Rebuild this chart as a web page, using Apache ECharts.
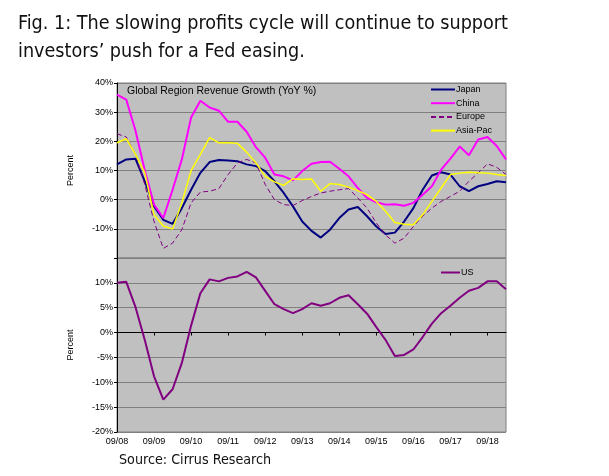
<!DOCTYPE html>
<html>
<head>
<meta charset="utf-8">
<script src="https://cdn.jsdelivr.net/npm/echarts@6/dist/echarts.min.js"></script>
<style>
  html, body { margin: 0; padding: 0; background: #fff; }
  #chart { width: 609px; height: 476px; }
</style>
</head>
<body>
<div id="chart"></div>
<script>
// == 季度 ==
var quarters = [
  '09/08', '12/08', '03/09', '06/09', '09/09', '12/09', '03/10', '06/10',
  '09/10', '12/10', '03/11', '06/11', '09/11', '12/11', '03/12', '06/12',
  '09/12', '12/12', '03/13', '06/13', '09/13', '12/13', '03/14', '06/14',
  '09/14', '12/14', '03/15', '06/15', '09/15', '12/15', '03/16', '06/16',
  '09/16', '12/16', '03/17', '06/17', '09/17', '12/17', '03/18', '06/18',
  '09/18', '12/18', '03/19'
];
// == 各地区收入增长 ==
var japan = [12.1, 13.8, 14.0, 6.3, -2.3, -6.9, -8.3, -2.9, 3.4, 9.2, 12.9, 13.6, 13.4, 13.2, 12.1, 11.5, 9.8, 6.3, 2.3, -2.3, -7.5, -10.7, -13.0, -10.3, -6.3, -3.4, -2.5, -5.7, -9.2, -11.8, -11.3, -7.5, -2.9, 3.4, 8.3, 9.4, 8.6, 4.6, 2.9, 4.6, 5.4, 6.3, 6.0];
var china = [36.0, 34.3, 23.6, 10.0, -1.7, -6.3, 3.4, 13.8, 28.2, 33.9, 31.6, 30.5, 26.7, 26.7, 23.3, 18.0, 14.4, 8.6, 8.0, 6.6, 9.8, 12.3, 12.9, 13.0, 10.6, 8.0, 4.0, 0.6, -0.9, -1.7, -1.6, -2.1, -1.1, 1.7, 4.6, 10.3, 14.1, 18.2, 15.2, 20.6, 21.5, 18.4, 13.8];
var europe = [22.6, 21.5, 15.5, 5.2, -7.5, -16.7, -14.9, -10.3, -1.1, 2.6, 2.9, 3.8, 8.6, 12.6, 13.8, 12.6, 5.2, 0.0, -1.7, -2.0, -0.3, 1.1, 2.3, 2.9, 3.4, 3.8, 0.6, -2.9, -8.0, -12.1, -14.9, -13.2, -9.2, -5.7, -2.9, -0.6, 1.1, 2.9, 6.3, 9.2, 12.3, 11.1, 8.6];
var asiaPac = [19.5, 20.9, 15.5, 9.2, -5.2, -9.0, -10.1, -1.1, 10.0, 15.5, 21.3, 19.5, 19.5, 19.3, 16.3, 12.6, 8.0, 6.1, 4.9, 7.2, 6.9, 7.1, 2.9, 5.5, 5.2, 4.3, 3.1, 1.7, -0.6, -4.0, -7.8, -8.4, -8.6, -5.2, -0.6, 4.0, 8.6, 9.1, 9.4, 9.2, 9.1, 8.6, 8.3];
var us = [10.0, 10.2, 5.1, -1.5, -8.8, -13.5, -11.4, -6.1, 1.4, 7.9, 10.7, 10.3, 11.0, 11.3, 12.2, 11.1, 8.4, 5.7, 4.7, 3.9, 4.7, 5.9, 5.4, 5.9, 7.0, 7.5, 5.7, 3.8, 1.1, -1.5, -4.7, -4.5, -3.4, -0.9, 1.8, 3.9, 5.4, 7.0, 8.4, 9.0, 10.3, 10.3, 8.7];

var chartDom = document.getElementById('chart');
var myChart = echarts.init(chartDom);
var option;

var headFont = "'DejaVu Sans Condensed', 'Liberation Sans Narrow', 'Roboto Condensed', 'Noto Sans'";
var small = { fontFamily: 'Liberation Sans', fontSize: 9, color: '#000' };
var pct = function (hidden) {
  return function (v) { return v === hidden ? '' : v + '%'; };
};

option = {
  animation: false,
  backgroundColor: '#fff',
  title: [
    {
      text: 'Fig. 1: The slowing profits cycle will continue to support\ninvestors\u2019 push for a Fed easing.',
      left: 13,
      top: 5,
      textStyle: {
        fontFamily: headFont,
        fontWeight: 'normal',
        fontSize: 19.6,
        lineHeight: 28,
        color: '#111',
      },
    },
    {
      text: 'Global Region Revenue Growth (YoY %)',
      left: 122,
      top: 81,
      textStyle: { fontFamily: 'Liberation Sans', fontWeight: 'normal', fontSize: 10.5, color: '#000' },
    },
    {
      text: 'Source: Cirrus Research',
      left: 114,
      top: 448,
      textStyle: { fontFamily: headFont, fontWeight: 'normal', fontSize: 14.2, color: '#111' },
    },
  ],
  legend: [
    {
      data: ['Japan', 'China', 'Europe', 'Asia-Pac'],
      orient: 'vertical',
      left: 425,
      top: 80,
      itemWidth: 24,
      itemHeight: 10,
      itemGap: 4.7,
      itemStyle: { opacity: 0 },
      textStyle: { fontFamily: 'Liberation Sans', fontSize: 9, color: '#000', padding: [0, 0, 0, -4] },
    },
    {
      data: ['US'],
      left: 435,
      top: 263,
      itemWidth: 19,
      itemHeight: 10,
      itemStyle: { opacity: 0 },
      textStyle: { fontFamily: 'Liberation Sans', fontSize: 9, color: '#000', padding: [0, 0, 0, -4] },
    },
  ],
  grid: [
    { left: 117, top: 83, width: 389, height: 175, show: true, backgroundColor: '#c0c0c0', borderColor: '#808080', borderWidth: 1 },
    { left: 117, top: 258, width: 389, height: 174, show: true, backgroundColor: '#c0c0c0', borderColor: '#808080', borderWidth: 1 },
  ],
  xAxis: [
    {
      gridIndex: 0,
      type: 'category',
      boundaryGap: false,
      data: quarters,
      axisLine: { show: false },
      axisTick: { show: false },
      axisLabel: { show: false },
    },
    {
      gridIndex: 1,
      type: 'category',
      boundaryGap: false,
      data: quarters,
      axisLine: { lineStyle: { color: '#000', width: 1 } },
      axisTick: { interval: 3, length: 3, lineStyle: { color: '#000' } },
      axisLabel: Object.assign({ interval: 3, margin: 5 }, small),
    },
  ],
  yAxis: [
    {
      gridIndex: 0,
      type: 'value',
      min: -20,
      max: 40,
      interval: 10,
      name: 'Percent',
      nameLocation: 'middle',
      nameGap: 42,
      nameTextStyle: small,
      axisLine: { show: true, lineStyle: { color: '#000' } },
      axisTick: { show: true, length: 3, lineStyle: { color: '#000' } },
      axisLabel: Object.assign({ margin: 4, formatter: pct(-20) }, small),
      splitLine: { lineStyle: { color: '#808080', width: 1 } },
    },
    {
      gridIndex: 1,
      type: 'value',
      min: -20,
      max: 15,
      interval: 5,
      name: 'Percent',
      nameLocation: 'middle',
      nameGap: 42,
      nameTextStyle: small,
      axisLine: { show: true, lineStyle: { color: '#000' } },
      axisTick: { show: true, length: 3, lineStyle: { color: '#000' } },
      axisLabel: Object.assign({ margin: 4, formatter: pct(15) }, small),
      splitLine: { lineStyle: { color: '#808080', width: 1 } },
    },
  ],
  series: [
    { name: 'Japan', type: 'line', xAxisIndex: 0, yAxisIndex: 0, symbol: 'none', color: '#000080', lineStyle: { width: 2 }, data: japan },
    { name: 'China', type: 'line', xAxisIndex: 0, yAxisIndex: 0, symbol: 'none', color: '#ff00ff', lineStyle: { width: 2 }, data: china },
    { name: 'Europe', type: 'line', xAxisIndex: 0, yAxisIndex: 0, symbol: 'none', color: '#800080', lineStyle: { width: 1, type: [5, 3] }, data: europe },
    { name: 'Asia-Pac', type: 'line', xAxisIndex: 0, yAxisIndex: 0, symbol: 'none', color: '#ffff00', lineStyle: { width: 1.5 }, data: asiaPac },
    { name: 'US', type: 'line', xAxisIndex: 1, yAxisIndex: 1, symbol: 'none', color: '#800080', lineStyle: { width: 2 }, data: us },
  ],
};

option && myChart.setOption(option);
</script>
</body>
</html>
